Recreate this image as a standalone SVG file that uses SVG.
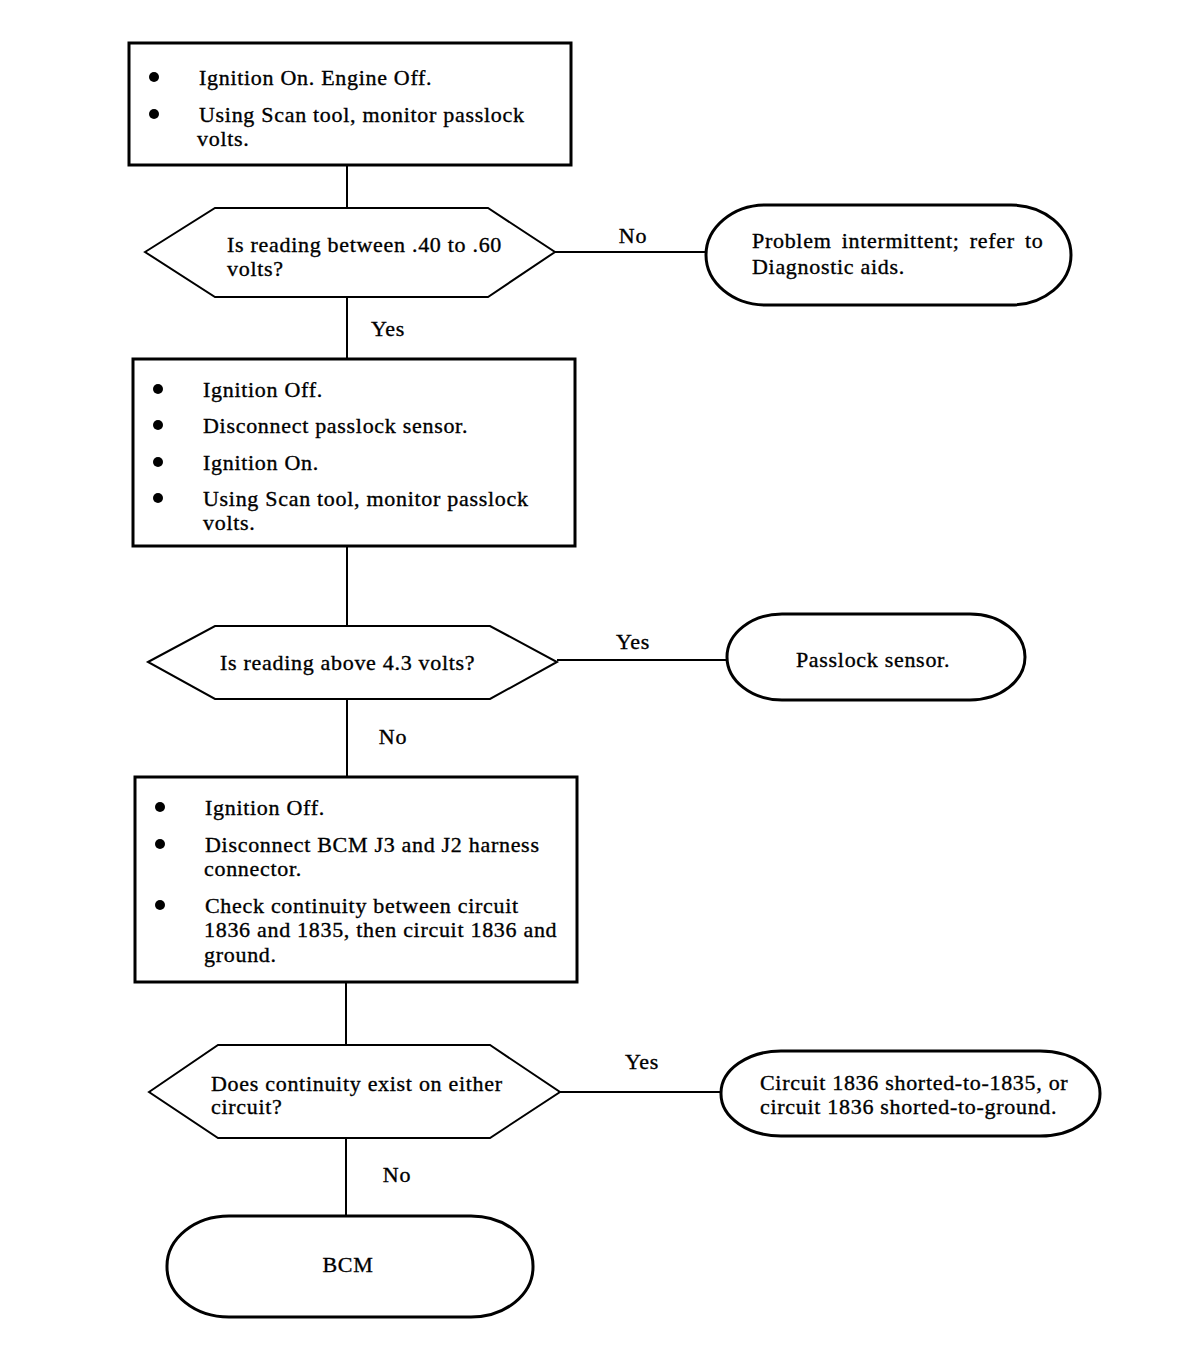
<svg xmlns="http://www.w3.org/2000/svg" width="1184" height="1358" viewBox="0 0 1184 1358">
<style>
.box{fill:#fff;stroke:#000;stroke-width:3}
.dia{fill:#fff;stroke:#000;stroke-width:2}
.term{fill:#fff;stroke:#000;stroke-width:3}
.con{fill:none;stroke:#000;stroke-width:2}
text{font-family:"Liberation Serif","Times New Roman",serif;font-size:22px;letter-spacing:0.7px;fill:#000;stroke:#000;stroke-width:0.35}
.c{text-anchor:middle}
.b{fill:#000}
</style>
<rect width="1184" height="1358" fill="#fff"/>
<g id="connectors">
<line class="con" x1="347" y1="165" x2="347" y2="208"/>
<line class="con" x1="555" y1="252" x2="706" y2="252"/>
<text x="633" y="243" class="c">No</text>
<line class="con" x1="347" y1="297" x2="347" y2="359"/>
<text x="388" y="336" class="c">Yes</text>
<line class="con" x1="347" y1="546" x2="347" y2="626"/>
<line class="con" x1="557" y1="660" x2="727" y2="660"/>
<text x="633" y="649" class="c">Yes</text>
<line class="con" x1="347" y1="699" x2="347" y2="777"/>
<text x="393" y="744" class="c">No</text>
<line class="con" x1="346" y1="982" x2="346" y2="1046"/>
<line class="con" x1="560" y1="1092" x2="721" y2="1092"/>
<text x="642" y="1069" class="c">Yes</text>
<line class="con" x1="346" y1="1138" x2="346" y2="1216"/>
<text x="397" y="1182" class="c">No</text>
</g>
<g id="step1">
<rect class="box" x="129" y="43" width="442" height="122"/>
<circle class="b" cx="154" cy="77" r="5"/>
<text x="199" y="85">Ignition On. Engine Off.</text>
<circle class="b" cx="154" cy="114" r="5"/>
<text x="199" y="122">Using Scan tool, monitor passlock</text>
<text x="197" y="146">volts.</text>
</g>
<g id="decision1">
<polygon class="dia" points="145,252 215,208 488,208 555,252 488,297 215,297"/>
<text x="227" y="252" letter-spacing="1.2">Is reading between .40 to .60</text>
<text x="227" y="276">volts?</text>
</g>
<g id="result1">
<rect class="term" x="706" y="205" width="365" height="100" rx="60" ry="50"/>
<text x="752" y="248" word-spacing="4">Problem intermittent; refer to</text>
<text x="752" y="274">Diagnostic aids.</text>
</g>
<g id="step2">
<rect class="box" x="133" y="359" width="442" height="187"/>
<circle class="b" cx="158" cy="389" r="5"/>
<text x="203" y="397">Ignition Off.</text>
<circle class="b" cx="158" cy="425" r="5"/>
<text x="203" y="433">Disconnect passlock sensor.</text>
<circle class="b" cx="158" cy="462" r="5"/>
<text x="203" y="470">Ignition On.</text>
<circle class="b" cx="158" cy="498" r="5"/>
<text x="203" y="506">Using Scan tool, monitor passlock</text>
<text x="203" y="530">volts.</text>
</g>
<g id="decision2">
<polygon class="dia" points="148,662 215,626 490,626 557,662 490,699 215,699"/>
<text x="220" y="670">Is reading above 4.3 volts?</text>
</g>
<g id="result2">
<rect class="term" x="727" y="614" width="298" height="86" rx="55" ry="43"/>
<text x="873" y="667" class="c">Passlock sensor.</text>
</g>
<g id="step3">
<rect class="box" x="135" y="777" width="442" height="205"/>
<circle class="b" cx="160" cy="807" r="5"/>
<text x="205" y="815">Ignition Off.</text>
<circle class="b" cx="160" cy="844" r="5"/>
<text x="205" y="852">Disconnect BCM J3 and J2 harness</text>
<text x="204" y="876">connector.</text>
<circle class="b" cx="160" cy="905" r="5"/>
<text x="205" y="913">Check continuity between circuit</text>
<text x="204" y="937">1836 and 1835, then circuit 1836 and</text>
<text x="204" y="962">ground.</text>
</g>
<g id="decision3">
<polygon class="dia" points="149,1092 218,1045 490,1045 560,1092 490,1138 218,1138"/>
<text x="211" y="1091">Does continuity exist on either</text>
<text x="211" y="1114">circuit?</text>
</g>
<g id="result3">
<rect class="term" x="721" y="1051" width="379" height="85" rx="60" ry="42"/>
<text x="760" y="1090">Circuit 1836 shorted-to-1835, or</text>
<text x="760" y="1114">circuit 1836 shorted-to-ground.</text>
</g>
<g id="result4">
<rect class="term" x="167" y="1216" width="366" height="101" rx="62" ry="50"/>
<text x="348" y="1272" class="c">BCM</text>
</g>
</svg>
